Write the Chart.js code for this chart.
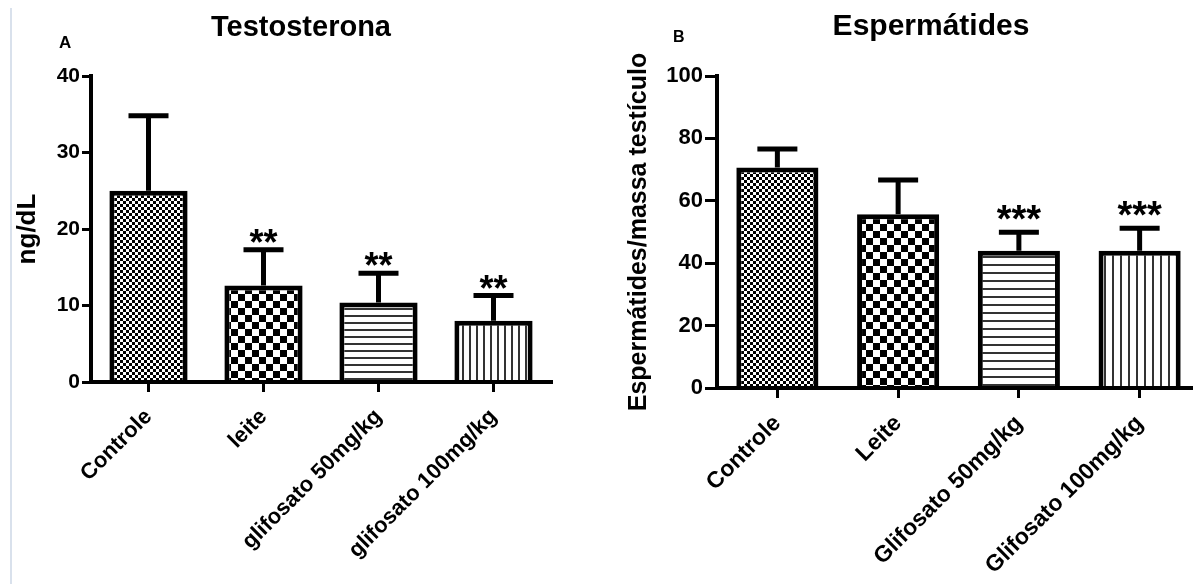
<!DOCTYPE html>
<html>
<head>
<meta charset="utf-8">
<script src="https://cdn.jsdelivr.net/npm/chart.js@4.4.1/dist/chart.umd.min.js"></script>
<style>
  html, body { margin: 0; padding: 0; background: #fff; }
  body { width: 1193px; height: 584px; position: relative; overflow: hidden; font-family: "Liberation Sans", Arial, sans-serif; }
  canvas { position: absolute; top: 0; }
  #left { left: 0; }
  #right { left: 600px; }
  .title { position: absolute; font-weight: bold; line-height: 1; white-space: nowrap; transform: translateX(-50%); }
  .tag { position: absolute; font-weight: bold; line-height: 1; }
  #edge { position: absolute; left: 10px; top: 8px; width: 2px; height: 576px; background: #d9e1ec; }
</style>
</head>
<body>
<div id="edge"></div>
<canvas id="left" width="600" height="584"></canvas>
<canvas id="right" width="610" height="584"></canvas>
<div class="title" style="left:301px; top:12px; font-size:29px;">Testosterona</div>
<div class="title" style="left:931px; top:10px; font-size:30px;">Espermátides</div>
<div class="tag" style="left:59px; top:34px; font-size:17px;">A</div>
<div class="tag" style="left:673px; top:29px; font-size:16px;">B</div>
<script>
// panel A - testosterona
const testoLabels = ['Controle', 'leite', 'glifosato 50mg/kg', 'glifosato 100mg/kg'];
const testoMeans = [25, 12.6, 10.4, 8.0];
const testoErrTop = [34.8, 17.3, 14.2, 11.3];
const testoStars = ['', '**', '**', '**'];
const testoTicks = [0, 10, 20, 30, 40];

// panel B - espermatides
const spermLabels = ['Controle', 'Leite', 'Glifosato 50mg/kg', 'Glifosato 100mg/kg'];
const spermMeans = [70.7, 55.7, 44, 44];
const spermErrTop = [76.6, 66.7, 49.9, 51.2];
const spermStars = ['', '', '***', '***'];
const spermTicks = [0, 20, 40, 60, 80, 100];

const FONT = "'Liberation Sans', Arial, sans-serif";

function makePattern(w, h, draw) {
    const c = document.createElement('canvas');
    c.width = w; c.height = h;
    const g = c.getContext('2d');
    g.fillStyle = '#fff';
    g.fillRect(0, 0, w, h);
    g.fillStyle = '#000';
    draw(g);
    return g.createPattern(c, 'repeat');
}

function checker(cell) {
    return makePattern(cell * 2, cell * 2, g => {
        g.fillRect(0, 0, cell, cell);
        g.fillRect(cell, cell, cell, cell);
    });
}
function hLines(step) {
    return makePattern(4, step, g => { g.fillStyle = '#333'; g.fillRect(0, 0, 4, 2); });
}
function vLines(step) {
    return makePattern(step, 4, g => { g.fillStyle = '#333'; g.fillRect(0, 0, 2, 4); });
}

const errorBars = {
    id: 'errorBars',
    afterDatasetsDraw(chart, args, opts) {
        const ctx = chart.ctx;
        const y = chart.scales.y;
        const bars = chart.getDatasetMeta(0).data;
        ctx.save();
        ctx.strokeStyle = '#000';
        ctx.fillStyle = '#000';
        ctx.lineWidth = 5;
        bars.forEach((bar, i) => {
            const top = y.getPixelForValue(opts.tops[i]);
            ctx.beginPath();
            ctx.moveTo(bar.x, bar.y);
            ctx.lineTo(bar.x, top);
            ctx.moveTo(bar.x - opts.cap / 2, top);
            ctx.lineTo(bar.x + opts.cap / 2, top);
            ctx.stroke();
            const s = opts.stars[i];
            if (s) {
                ctx.font = opts.starFont;
                ctx.textAlign = 'center';
                ctx.textBaseline = 'alphabetic';
                const m = ctx.measureText(s);
                ctx.fillText(s, bar.x, top - opts.starGap - m.actualBoundingBoxDescent);
            }
        });
        ctx.restore();
    }
};

function barChart(id, cfg) {
    const ctx = document.getElementById(id).getContext('2d');
    return new Chart(ctx, {
        type: 'bar',
        data: {
            labels: cfg.labels,
            datasets: [{
                data: cfg.means,
                backgroundColor: cfg.fills,
                borderColor: '#000',
                borderWidth: 5,
                categoryPercentage: 1,
                barPercentage: 0.68
            }]
        },
        options: {
            responsive: false,
            animation: false,
            layout: { padding: cfg.padding },
            plugins: {
                legend: { display: false },
                tooltip: { enabled: false },
                errorBars: { tops: cfg.errTop, stars: cfg.stars, cap: 40, starFont: cfg.starFont, starGap: cfg.starGap }
            },
            scales: {
                x: {
                    grid: { drawOnChartArea: false, offset: false, tickLength: 10, lineWidth: 3, color: '#000' },
                    border: { color: '#000', width: 4, z: 1 },
                    ticks: {
                        color: '#000',
                        font: { family: FONT, size: cfg.xFont, weight: 'bold' },
                        minRotation: 45, maxRotation: 45, autoSkip: false, padding: 12
                    },
                    afterFit: s => { s.height = cfg.xHeight; }
                },
                y: {
                    min: 0,
                    max: cfg.yTicks[cfg.yTicks.length - 1],
                    afterBuildTicks: s => { s.ticks = cfg.yTicks.map(v => ({ value: v })); },
                    grid: { drawOnChartArea: false, tickLength: cfg.yTickLen, lineWidth: 3, color: '#000' },
                    border: { color: '#000', width: 4, z: 1 },
                    ticks: { color: '#000', font: { family: FONT, size: cfg.yFont, weight: 'bold' }, padding: 2 },
                    title: {
                        display: true,
                        text: cfg.yTitle,
                        color: '#000',
                        font: { family: FONT, size: cfg.yTitleFont, weight: 'bold' },
                        padding: { top: cfg.yTitlePad, bottom: 0 }
                    },
                    afterFit: s => { s.width = cfg.yWidth; }
                }
            }
        },
        plugins: [errorBars]
    });
}

barChart('left', {
    labels: testoLabels,
    means: testoMeans,
    errTop: testoErrTop,
    stars: testoStars,
    yTicks: testoTicks,
    fills: [checker(3), checker(7), hLines(7), vLines(7)],
    yTitle: 'ng/dL',
    yTitleFont: 26,
    yTitlePad: 12,
    yFont: 21,
    yTickLen: 9,
    xFont: 22,
    yWidth: 91,
    xHeight: 202,
    padding: { top: 76, right: 49, bottom: 0, left: 0 },
    starFont: "bold 36px " + FONT,
    starGap: 7
});

barChart('right', {
    labels: spermLabels,
    means: spermMeans,
    errTop: spermErrTop,
    stars: spermStars,
    yTicks: spermTicks,
    fills: [checker(3), checker(7), hLines(8), vLines(8)],
    yTitle: 'Espermátides/massa testículo',
    yTitleFont: 25,
    yTitlePad: 24,
    yFont: 22,
    yTickLen: 12,
    xFont: 23,
    yWidth: 117,
    xHeight: 196,
    padding: { top: 76, right: 10, bottom: 0, left: 0 },
    starFont: "bold 38px " + FONT,
    starGap: 12
});
</script>
</body>
</html>
